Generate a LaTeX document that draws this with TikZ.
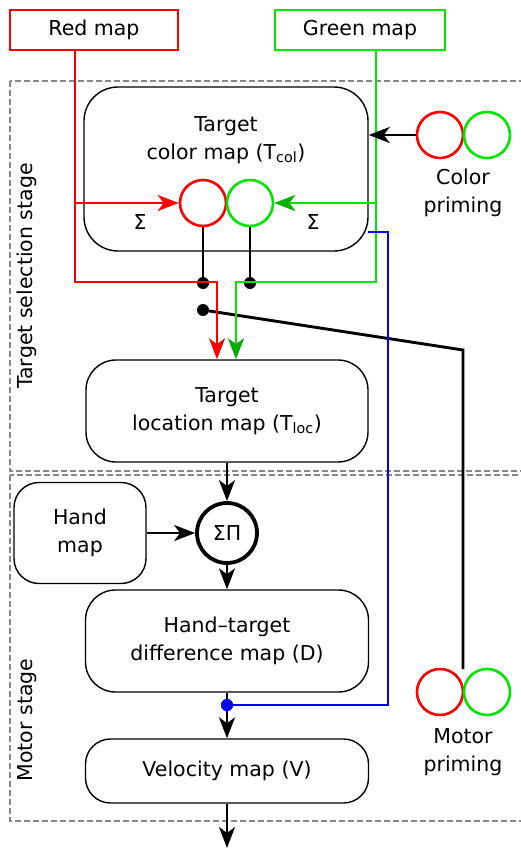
\documentclass[tikz,border=0pt]{standalone}
\usepackage{fontspec}
\setmainfont{DejaVu Sans}
\usepackage{xcolor}
\usepackage{tikz}
\usetikzlibrary{arrows.meta}

\definecolor{mapred}{RGB}{255,0,0}
\definecolor{mapgreen}{RGB}{0,230,0}
\definecolor{tipgreen}{RGB}{0,175,0}
\definecolor{mapblue}{RGB}{0,0,255}
\definecolor{stagegray}{RGB}{135,135,135}

\begin{document}
\begin{tikzpicture}[x=1pt, y=-1pt,
  every node/.style={font=\fontsize{20.5}{27.5}\selectfont, align=center},
  mapbox/.style={draw, line width=1.4pt, rounded corners=30pt, inner sep=0pt},
  inbox/.style={draw, line width=2.4pt, minimum height=40pt, inner sep=0pt},
  unit/.style={circle, draw, line width=2.6pt, minimum size=46pt, inner sep=0pt},
  dot/.style={circle, fill, inner sep=0pt, minimum size=12pt},
  wire/.style={line width=2.9pt},
  tip/.style={-{Stealth[length=21pt, width=16pt, inset=6pt]}},
  stage/.style={draw=stagegray, dash pattern=on 6pt off 3pt, line width=1.4pt}]
  \useasboundingbox (0,0) rectangle (520,848);

  % Stages
  \draw[stage] (10,81) rectangle (530,471);
  \draw[stage] (10,475) rectangle (530,821);
  \node[rotate=90] (seltxt) at (27,276) {Target selection stage};
  \node[rotate=90] (mottxt) at (27,720) {Motor stage};

  % Input maps
  \node[inbox, draw=mapred, minimum width=168pt] (redmap) at (94,30) {Red map};
  \node[inbox, draw=mapgreen, minimum width=170pt] (greenmap) at (360,30) {Green map};

  % Target color map with its two units
  \node[mapbox, rounded corners=34pt, minimum width=284pt, minimum height=164pt] (colmap) at (226,169) {};
  \node (colmaptxt) at (226,140) {Target\\color map (T\textsubscript{col})};
  \node[unit, draw=mapred] (redc) at (203,203) {};
  \node[unit, draw=mapgreen] (greenc) at (250,203) {};
  \node (redsum) at (140,222) {Σ};
  \node (greensum) at (313,222) {Σ};

  % Priming
  \node[unit, draw=mapred] (cpred) at (440,135) {};
  \node[unit, draw=mapgreen] (cpgreen) at (487,135) {};
  \node (cptxt) at (463,193) {Color\\priming};
  \node[unit, draw=mapred] (mpred) at (440,692) {};
  \node[unit, draw=mapgreen] (mpgreen) at (487,692) {};
  \node (mptxt) at (463,752) {Motor\\priming};

  % Maps of the lower part
  \node[mapbox, minimum width=282pt, minimum height=102pt] (locmap) at (227,411) {Target\\location map (T\textsubscript{loc})};
  \node[mapbox, rounded corners=25pt, minimum width=132pt, minimum height=101pt] (handmap) at (80,533) {Hand\\map};
  \node[circle, draw, line width=3.8pt, minimum size=60pt, inner sep=0pt] (sp) at (227,533) {ΣΠ};
  \node[mapbox, minimum width=283pt, minimum height=102pt] (diffmap) at (227,641) {Hand--target\\difference map (D)};
  \node[mapbox, rounded corners=25pt, minimum width=283pt, minimum height=64pt] (velmap) at (227,771) {Velocity map (V)};

  % Junctions
  \node[dot] (rdot) at (203,283) {};
  \node[dot] (gdot) at (250,283) {};
  \node[dot] (mdot) at (203,310) {};
  \node[dot, fill=mapblue] (bdot) at (227,705) {};

  % Bends
  \coordinate (rtop) at (75,50);
  \coordinate (rbend) at (217,282);
  \coordinate (gtop) at (376,50);
  \coordinate (gbend) at (236,282);
  \coordinate (mbend) at (463,350);
  \coordinate (mptop) at (463,669);
  \coordinate (bstart) at (368,232);
  \coordinate (bturn) at (388,705);
  \coordinate (out) at (227,848);

  % Motor priming line
  \draw[wire] (mdot) -- (mbend) -- (mptop);

  % Red wires
  \draw[wire, mapred, -{Stealth[length=21pt, width=16pt, inset=6pt]}] (rtop) |- (rbend) -- (locmap.north -| rbend);
  \draw[wire, mapred, -{Stealth[length=21pt, width=16pt, inset=6pt]}] (rtop |- redc) -- (redc.west);

  % Green wires
  \draw[wire, mapgreen, -{Stealth[length=21pt, width=16pt, inset=6pt, color=tipgreen]}] (gtop) |- (gbend) -- (locmap.north -| gbend);
  \draw[wire, mapgreen, -{Stealth[length=21pt, width=16pt, inset=6pt, color=tipgreen]}] (gtop |- greenc) -- (greenc.east);

  % Unit outputs
  \draw[wire] (redc.south) -- (rdot);
  \draw[wire] (greenc.south) -- (gdot);

  % Blue wire
  \draw[wire, mapblue] (bstart) -| (bturn) -- (bdot);

  % Black arrows
  \draw[wire, tip] (cpred.west) -- (colmap.east |- cpred.west);
  \draw[wire, tip] (locmap.south) -- (sp.north);
  \draw[wire, tip] (handmap.east) -- (sp.west);
  \draw[wire, tip] (sp.south) -- (diffmap.north);
  \draw[wire, tip] (diffmap.south) -- (velmap.north);
  \draw[wire, tip] (velmap.south) -- (out);
  \node[dot, fill=mapblue] at (bdot) {};
\end{tikzpicture}
\end{document}
